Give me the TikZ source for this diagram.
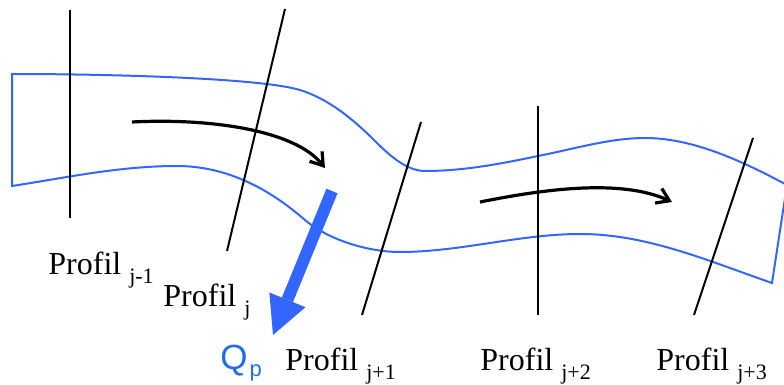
\documentclass[tikz,border=0pt]{standalone}
\usepackage{fontspec}
\setmainfont{Liberation Serif}
\newfontfamily\qfont{Liberation Sans}
\usetikzlibrary{arrows.meta}
\definecolor{chanblue}{RGB}{51,102,255}
\definecolor{qblue}{RGB}{31,111,235}
\newcommand\profsub[1]{\raisebox{-4.5pt}{\fontsize{11}{13}\selectfont #1}}

\begin{document}
\begin{tikzpicture}[x=0.5pt, y=-0.5pt,
  profil/.style={line width=1pt},
  flow/.style={line width=1.6pt, -{Straight Barb[length=6pt, width=8pt]}},
  channel/.style={chanblue, line width=1pt, line join=miter},
  qarrow/.style={chanblue, line width=6pt, -{Triangle[length=19pt, width=19.5pt, line width=0pt]}},
  proflabel/.style={anchor=base west, inner sep=0pt, font=\fontsize{16}{19}\selectfont}]
  \clip (0,0) rectangle (784,385);
  % cross sections, top (T) and bottom (B)
  \coordinate (T1) at (70,10);   \coordinate (B1) at (70,218);
  \coordinate (T2) at (285,9);   \coordinate (B2) at (227,251);
  \coordinate (T3) at (421,122); \coordinate (B3) at (362,315);
  \coordinate (T4) at (538,106); \coordinate (B4) at (538,315);
  \coordinate (T5) at (753,138); \coordinate (B5) at (694,315);
  % river reach outline: left bank, right edge, right bank, left edge
  \draw[channel] (12,186) -- (12,74)
    .. controls (110,74) and (260,78) .. (300,90)
    .. controls (329,99) and (354,120) .. (375,141)
    .. controls (390,156) and (407,171) .. (425,171)
    .. controls (463,171) and (500,164) .. (538,156)
    .. controls (574,149) and (610,138) .. (645,138)
    .. controls (693,138) and (742,161) .. (787,185)
    -- (772,283)
    .. controls (706,260) and (646,234) .. (580,234)
    .. controls (520,234) and (460,252) .. (400,252)
    .. controls (370,252) and (330,241) .. (305,220)
    .. controls (285,203) and (240,166) .. (177,166)
    .. controls (120,166) and (67,177.5) .. (12,186)
    -- cycle;
  \foreach \i in {1,...,5} \draw[profil] (T\i) -- (B\i);
  % flow direction
  \draw[flow] (132,122) .. controls (210,118) and (295,130) .. (325,168);
  \draw[flow] (480,202) .. controls (540,190) and (620,178) .. (672,202);
  % lateral outflow
  \coordinate (Qs) at (332,191);
  \coordinate (Qe) at (273,335);
  \draw[qarrow] (Qs) -- (Qe);
  \node[proflabel] (L1) at (48,275)  {Profil \profsub{j-1}};
  \node[proflabel] (L2) at (163,307) {Profil \profsub{j}};
  \node[proflabel] (L3) at (285,371) {Profil \profsub{j+1}};
  \node[proflabel] (L4) at (480,371) {Profil \profsub{j+2}};
  \node[proflabel] (L5) at (656,371) {Profil \profsub{j+3}};
  \node[anchor=base west, inner sep=0pt, text=qblue, font=\qfont\fontsize{17.5}{20}\selectfont] (Q) at (220,370)
    {Q\raisebox{-3.5pt}{\kern1pt\fontsize{11}{13}\selectfont p}};
\end{tikzpicture}
\end{document}
